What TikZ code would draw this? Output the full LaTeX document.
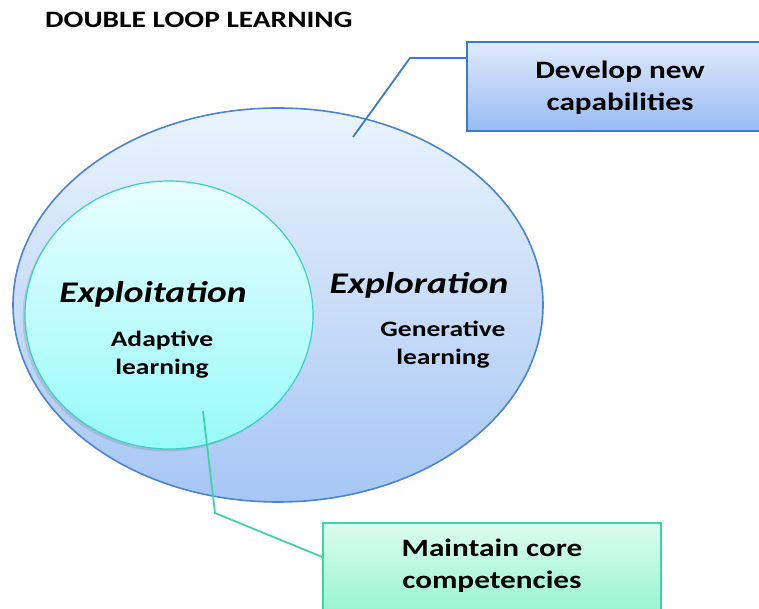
\documentclass[tikz,border=0pt]{standalone}
\usepackage{fontspec}
\setmainfont{Carlito}[FakeStretch=1.25]
\usetikzlibrary{shapes.geometric,shadows}
\definecolor{outerTop}{HTML}{EAF4FD}
\definecolor{outerBot}{HTML}{A6C6F4}
\definecolor{outerLine}{HTML}{4A84D2}
\definecolor{innerTop}{HTML}{E8FEFE}
\definecolor{innerBot}{HTML}{98FAFA}
\definecolor{innerLine}{HTML}{3CCFC4}
\definecolor{boxATop}{HTML}{E0EAFB}
\definecolor{boxABot}{HTML}{98BBF2}
\definecolor{boxALine}{HTML}{3A7BD0}
\definecolor{boxBTop}{HTML}{DCFCF0}
\definecolor{boxBBot}{HTML}{98F4D2}
\definecolor{boxBLine}{HTML}{3DD4A6}
\tikzset{
  lbl/.style={font=\fontsize{22}{28}\selectfont\bfseries, align=center, inner sep=0pt},
  big/.style={font=\fontsize{30}{34}\selectfont\bfseries\itshape, inner sep=0pt},
  boxtxt/.style={font=\fontsize{25}{32}\selectfont\bfseries, align=center},
  calloutA/.style={draw=boxALine, line width=1.8pt},
  calloutB/.style={draw=boxBLine, line width=1.8pt},
}
\begin{document}
\begin{tikzpicture}[x=1pt,y=1pt]
\useasboundingbox (0,0) rectangle (759,609);
\clip (0,0) rectangle (759,609);
% outer ellipse
\node[ellipse, minimum width=530pt, minimum height=394pt, inner sep=0pt,
      top color=outerTop, bottom color=outerBot, draw=outerLine, line width=1.6pt] (outer) at (278,304) {};
% inner circle
\node[ellipse, minimum width=288pt, minimum height=268pt, inner sep=0pt,
      top color=innerTop, bottom color=innerBot, draw=innerLine, line width=1.2pt,
      drop shadow={shadow xshift=-2.5pt, shadow yshift=-2.5pt, opacity=0.25}] (inner) at (169,294) {};
% boxes
\node[rectangle, minimum width=306pt, minimum height=89pt, inner sep=0pt,
      top color=boxATop, bottom color=boxABot, draw=boxALine, line width=1.5pt] (boxA) at (620,522.5) {};
\node[boxtxt] (boxAtxt) at (620,521.5) {Develop new\\capabilities};
\node[rectangle, minimum width=338pt, minimum height=89pt, inner sep=0pt,
      top color=boxBTop, bottom color=boxBBot, draw=boxBLine, line width=1.5pt] (boxB) at (492,41.5) {};
\node[boxtxt] (boxBtxt) at (492,43) {Maintain core\\competencies};
% callouts
\coordinate (a0) at (353,472);
\coordinate (a1) at (410,551);
\draw[calloutA] (a0) -- (a1) -- (boxA.west |- a1);
\coordinate (b0) at (203,198);
\coordinate (b1) at (215,96);
\draw[calloutB] (b0) -- (b1) -- (boxB.west |- 0,52);
% texts
\node[font=\fontsize{23.5}{28}\selectfont\bfseries, anchor=west, inner sep=0pt] (title) at (45,589) {DOUBLE LOOP LEARNING};
\node[big] (exploit) at (153,315) {Exploitation};
\node[lbl] (adapt) at (162,254) {Adaptive\\learning};
\node[big] (explore) at (419,324) {Exploration};
\node[lbl] (gen) at (443,264) {Generative\\learning};
\end{tikzpicture}
\end{document}
